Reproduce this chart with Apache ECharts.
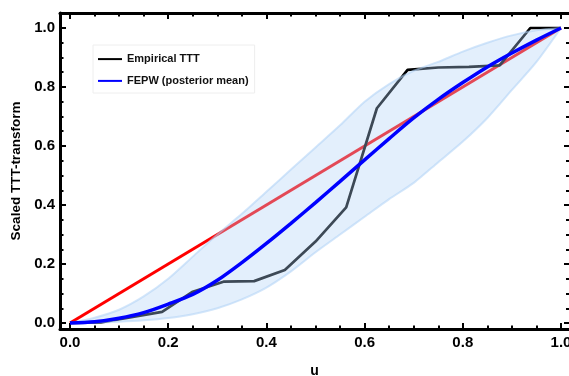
<!DOCTYPE html>
<html>
<head>
<meta charset="utf-8">
<script src="https://cdn.jsdelivr.net/npm/echarts@6/dist/echarts.min.js"></script>
<style>
html,body{margin:0;padding:0;background:#fff;}
#chart{width:569px;height:376px;}
</style>
</head>
<body>
<div id="chart"></div>
<script>
// ---- data ----
const uGrid = [0, 0.05, 0.1, 0.15, 0.2, 0.25, 0.3, 0.35, 0.4, 0.45, 0.5, 0.55, 0.6, 0.65, 0.7, 0.75, 0.8, 0.85, 0.9, 0.95, 1.0];
const fepwMean = [0, 0.004, 0.016, 0.035, 0.064, 0.097, 0.145, 0.205, 0.27, 0.338, 0.408, 0.48, 0.553, 0.625, 0.695, 0.758, 0.815, 0.868, 0.915, 0.959, 1.0];
const bandLower = [0, 0.001, 0.004, 0.009, 0.017, 0.03, 0.05, 0.08, 0.12, 0.175, 0.24, 0.30, 0.36, 0.42, 0.475, 0.545, 0.615, 0.695, 0.79, 0.885, 1.0];
const bandUpper = [0, 0.018, 0.045, 0.09, 0.15, 0.225, 0.30, 0.37, 0.445, 0.52, 0.595, 0.67, 0.75, 0.81, 0.855, 0.885, 0.92, 0.95, 0.975, 0.992, 1.0];
const empU = [0, 0.0625, 0.125, 0.1875, 0.25, 0.3125, 0.375, 0.4375, 0.5, 0.5625, 0.625, 0.6875, 0.75, 0.8125, 0.875, 0.9375, 1.0];
const empTTT = [0, 0.002, 0.02, 0.038, 0.106, 0.14, 0.142, 0.18, 0.276, 0.392, 0.728, 0.858, 0.866, 0.868, 0.873, 1.0, 1.0];
const refU = [0, 1];
const refY = [0, 1];
const majorTicks = [0, 0.2, 0.4, 0.6, 0.8, 1.0];
const minorTicks = [0.05, 0.1, 0.15, 0.25, 0.3, 0.35, 0.45, 0.5, 0.55, 0.65, 0.7, 0.75, 0.85, 0.9, 0.95];
const legendNames = ['Empirical TTT', 'FEPW (posterior mean)'];

// ---- build ----
const pairs = (xs, ys) => xs.map((x, i) => [x, ys[i]]);
const FONT = '"Liberation Sans", Arial, sans-serif';
const XMIN = -0.0204, XMAX = 1.0163, YMIN = -0.0203, YMAX = 1.0508;

function axis(dir, position, ticks, showLine, showLabel, len) {
  const a = {
    type: 'value', position: position,
    min: dir === 'x' ? XMIN : YMIN,
    max: dir === 'x' ? XMAX : YMAX,
    splitLine: { show: false },
    axisLine: { show: showLine, onZero: false, lineStyle: { color: '#000', width: 3 } },
    axisTick: { show: true, inside: true, length: len, customValues: ticks, lineStyle: { color: '#000', width: 2 } },
    axisLabel: { show: showLabel }
  };
  if (showLabel) {
    a.axisLabel = {
      show: true, customValues: ticks, color: '#000', fontFamily: FONT, fontWeight: 'bold', fontSize: 15,
      margin: dir === 'x' ? 6 : 5, formatter: v => v.toFixed(1)
    };
  }
  return a;
}

const xAxes = [
  Object.assign(axis('x', 'bottom', majorTicks, true, true, 6), {
    name: 'u', nameLocation: 'middle', nameGap: 35,
    nameTextStyle: { fontFamily: FONT, fontWeight: 'bold', fontSize: 14, color: '#000' }
  }),
  axis('x', 'bottom', minorTicks, false, false, 3.5),
  axis('x', 'top', majorTicks, true, false, 6),
  axis('x', 'top', minorTicks, false, false, 3.5)
];
const yAxes = [
  Object.assign(axis('y', 'left', majorTicks, true, true, 6), {
    name: 'Scaled TTT-transform', nameLocation: 'middle', nameGap: 35,
    nameTextStyle: { fontFamily: FONT, fontWeight: 'bold', fontSize: 13.5, color: '#000' }
  }),
  axis('y', 'left', minorTicks, false, false, 3.5),
  axis('y', 'right', majorTicks, false, false, 5),
  axis('y', 'right', minorTicks, false, false, 3)
];

const bandColor = 'rgba(175,210,245,0.35)';
const bandEdge = 'rgba(175,210,245,0.55)';

const option = {
  animation: false,
  backgroundColor: '#fff',
  grid: { left: 60, right: 0, top: 13, bottom: 47, containLabel: false, outerBoundsMode: 'none' },
  xAxis: xAxes,
  yAxis: yAxes,
  legend: {
    data: legendNames,
    orient: 'vertical',
    left: 93, top: 45,
    padding: [8.5, 6, 6.5, 4],
    itemWidth: 24, itemHeight: 14, itemGap: 10.6,
    backgroundColor: '#fff',
    borderColor: '#eeeeee', borderWidth: 1,
    itemStyle: { opacity: 0 },
    textStyle: { fontFamily: FONT, fontWeight: 'bold', fontSize: 11, color: '#111' }
  },
  series: [
    {
      name: 'Reference', type: 'line', z: 2, symbol: 'none', silent: true,
      data: pairs(refU, refY),
      lineStyle: { color: '#ff0000', width: 3 }
    },
    {
      name: 'Empirical TTT', type: 'line', z: 3, symbol: 'none',
      data: pairs(empU, empTTT),
      itemStyle: { color: '#000' },
      lineStyle: { color: '#000', width: 2.7 }
    },
    {
      name: 'band', type: 'custom', z: 4, silent: true, clip: true,
      data: [[0, 0]],
      renderItem: function (params, api) {
        const up = uGrid.map((u, i) => api.coord([u, bandUpper[i]]));
        const lo = uGrid.map((u, i) => api.coord([u, bandLower[i]]));
        const poly = up.concat(lo.slice().reverse());
        return {
          type: 'group',
          children: [
            { type: 'polygon', shape: { points: poly, smooth: 0.25 }, style: { fill: bandColor, stroke: null } },
            { type: 'polyline', shape: { points: up, smooth: 0.25 }, style: { stroke: bandEdge, lineWidth: 2, fill: null } },
            { type: 'polyline', shape: { points: lo, smooth: 0.25 }, style: { stroke: bandEdge, lineWidth: 2, fill: null } }
          ]
        };
      }
    },
    {
      name: 'FEPW (posterior mean)', type: 'line', z: 5, symbol: 'none', smooth: 0.3,
      data: pairs(uGrid, fepwMean),
      itemStyle: { color: '#0000ff' },
      lineStyle: { color: '#0000ff', width: 3.5 }
    }
  ]
};

const chart = echarts.init(document.getElementById('chart'), null, { renderer: 'canvas' });
chart.setOption(option);
</script>
</body>
</html>
